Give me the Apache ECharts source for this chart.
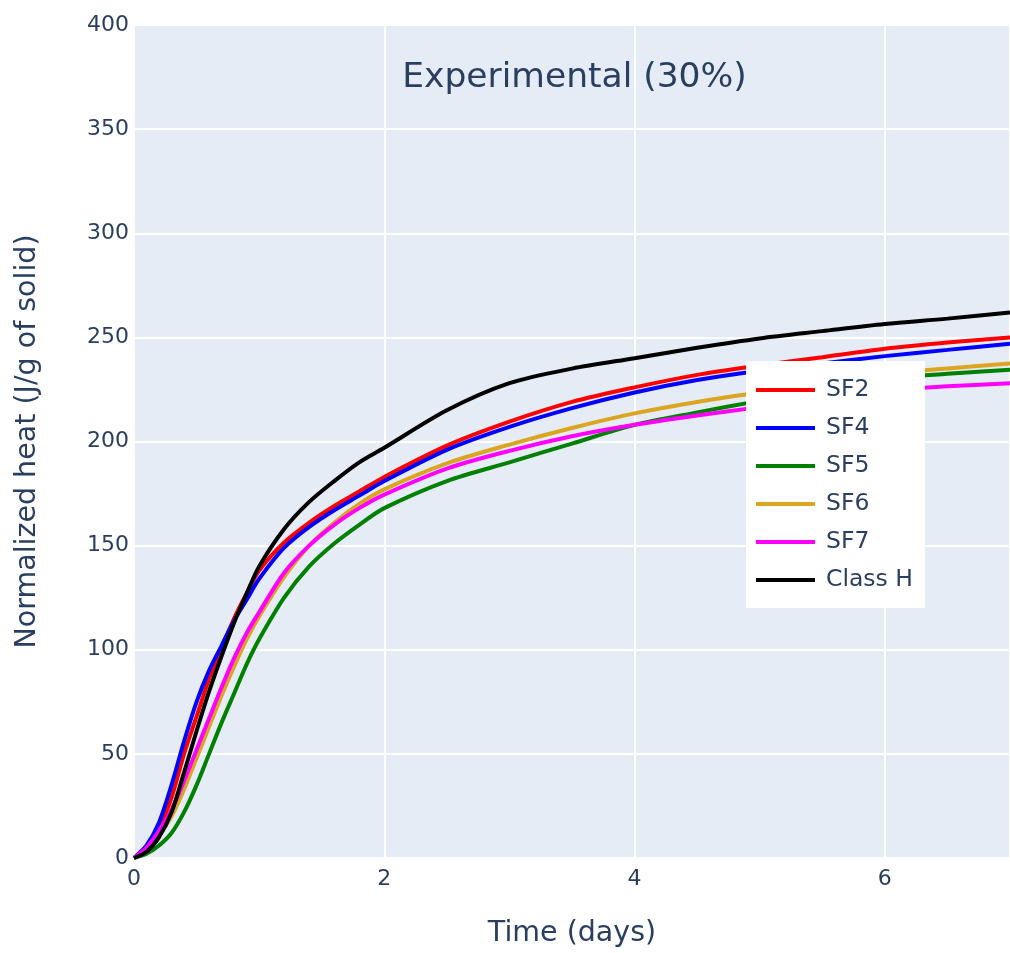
<!DOCTYPE html>
<html>
<head>
<meta charset="utf-8">
<script src="https://cdn.jsdelivr.net/npm/echarts@6/dist/echarts.min.js"></script>
<style>html,body{margin:0;padding:0;background:#fff}#chart{width:1010px;height:953px}</style>
</head>
<body>
<div id="chart"></div>
<script>
const days = [0,0.1,0.2,0.3,0.4,0.5,0.6,0.7,0.8,0.9,1.0,1.2,1.4,1.6,1.8,2.0,2.5,3.0,3.5,4.0,4.5,5.0,5.5,6.0,6.5,7.0];
const sf2    = [0,5,14,29,50,68,86,101,115,127,138,151.5,161,169,176,183,198,209.5,219,226,232,236.5,240.5,244.5,247.5,250];
const sf4    = [0,6,17,35,56,75,90,102,114,124,134,149,159,167,174,181,196,207,216,223.5,229.5,234,237.5,241,244,247];
const sf5    = [0,2,6,12,22,35,50,65,79,93,105,125,140,151,160,168,181,190,199,208,214,219.5,225,230,232.5,234.5];
const sf6    = [0,4,11,20,33,48,63,78,92,105,116,135,150,161,170,177,189.5,198.5,206.5,213.5,219,223.5,227.5,232.5,235,237.5];
const sf7    = [0,5,13,23,37,52,67,82,96,108,118,137,150,160,168,174.5,187,195.5,202.5,208,212.5,216.5,220.5,224.5,226.5,228];
const classH = [0,3,10,22,41,61,80,97,113,127,140,158,171,181,190,197,215,228,235,240,245,249.5,253,256.4,259,262];
const seriesNames = ['SF2','SF4','SF5','SF6','SF7','Class H'];
const seriesColors = ['#ff0000','#0000ff','#008000','#daa520','#ff00ff','#000000'];
const seriesValues = [sf2, sf4, sf5, sf6, sf7, classH];
const titleText = 'Experimental (30%)';
const xTitle = 'Time (days)';
const yTitle = 'Normalized heat (J/g of solid)';

const FONT = 'DejaVu Sans, Verdana, sans-serif';
const TXT = '#2a3f5f';

const chart = echarts.init(document.getElementById('chart'));
chart.setOption({
  animation: false,
  backgroundColor: '#ffffff',
  title: {
    text: titleText,
    left: 569.5,
    top: 56,
    textAlign: 'center',
    textStyle: { fontFamily: FONT, fontSize: 34.5, fontWeight: 'normal', color: TXT }
  },
  grid: {
    left: 134, top: 25, right: -5, bottom: 89.5,
    show: true, backgroundColor: '#E5ECF6', borderWidth: 0, containLabel: false
  },
  legend: {
    orient: 'vertical',
    left: 746, top: 361,
    backgroundColor: '#ffffff',
    padding: [16, 12, 15, 10],
    icon: 'rect',
    itemWidth: 59, itemHeight: 4, itemGap: 12,
    data: seriesNames,
    textStyle: { fontFamily: FONT, fontSize: 23.5, color: TXT, lineHeight: 26, padding: [0, 0, 0, 6] }
  },
  xAxis: {
    type: 'value', min: 0, max: 7, interval: 2,
    name: xTitle, nameLocation: 'middle', nameGap: 61,
    nameTextStyle: { fontFamily: FONT, fontSize: 28.5, color: TXT },
    axisLine: { show: false }, axisTick: { show: false },
    axisLabel: { fontFamily: FONT, fontSize: 22, color: TXT, margin: 10, showMaxLabel: false },
    splitLine: { show: true, lineStyle: { color: '#ffffff', width: 2 } }
  },
  yAxis: {
    type: 'value', min: 0, max: 400, interval: 50,
    name: yTitle, nameLocation: 'middle', nameGap: 92,
    nameTextStyle: { fontFamily: FONT, fontSize: 28.5, color: TXT },
    axisLine: { show: false }, axisTick: { show: false },
    axisLabel: { fontFamily: FONT, fontSize: 22, color: TXT, margin: 5 },
    splitLine: { show: true, lineStyle: { color: '#ffffff', width: 2 } }
  },
  series: seriesNames.map((n, i) => ({
    name: n, type: 'line',
    data: days.map((d, j) => [d, seriesValues[i][j]]),
    showSymbol: false, symbol: 'none',
    smooth: 0.3,
    color: seriesColors[i],
    lineStyle: { color: seriesColors[i], width: 4 }
  }))
});
</script>
</body>
</html>
